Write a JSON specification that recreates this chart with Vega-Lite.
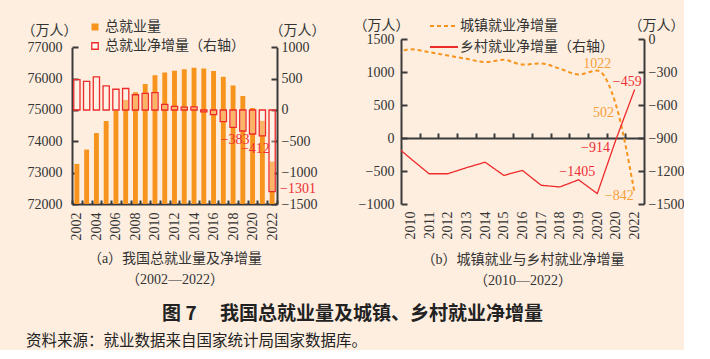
{
  "$schema": "https://vega.github.io/schema/vega-lite/v6.json",
  "background": "#FDEEE0",
  "padding": {"left": 21, "top": 18, "right": 0, "bottom": 0},
  "config": {
    "view": {"stroke": null},
    "font": "Liberation Serif, Noto Sans CJK SC",
    "axis": {
      "domainColor": "#3A3A3A", "domainWidth": 2, "tickColor": "#3A3A3A", "tickWidth": 2,
      "labelColor": "#333333", "labelFont": "Liberation Serif", "labelFontSize": 14,
      "labelOverlap": false,
      "grid": false, "titleFont": "Liberation Serif, Noto Sans CJK SC", "titleFontWeight": "normal",
      "titleColor": "#333333", "titleFontSize": 14
    },
    "legend": {"labelFont": "Noto Sans CJK SC", "labelFontSize": 14, "labelColor": "#333333"}
  },
  "datasets": {
    "total": [
      {"year": 2002, "total": 73280, "net": 483},
      {"year": 2003, "total": 73736, "net": 456},
      {"year": 2004, "total": 74264, "net": 528},
      {"year": 2005, "total": 74647, "net": 383},
      {"year": 2006, "total": 74978, "net": 331},
      {"year": 2007, "total": 75321, "net": 343},
      {"year": 2008, "total": 75564, "net": 243},
      {"year": 2009, "total": 75828, "net": 264},
      {"year": 2010, "total": 76105, "net": 277},
      {"year": 2011, "total": 76196, "net": 91},
      {"year": 2012, "total": 76254, "net": 58},
      {"year": 2013, "total": 76301, "net": 47},
      {"year": 2014, "total": 76349, "net": 48},
      {"year": 2015, "total": 76320, "net": -29},
      {"year": 2016, "total": 76245, "net": -75},
      {"year": 2017, "total": 76058, "net": -187},
      {"year": 2018, "total": 75782, "net": -276},
      {"year": 2019, "total": 75447, "net": -335},
      {"year": 2020, "total": 75064, "net": -383},
      {"year": 2021, "total": 74652, "net": -412},
      {"year": 2022, "total": 73351, "net": -1301}
    ],
    "urban": [
      {"year": 2009, "value": 1220},
      {"year": 2010, "value": 1345},
      {"year": 2011, "value": 1300},
      {"year": 2012, "value": 1250},
      {"year": 2013, "value": 1200},
      {"year": 2014, "value": 1150},
      {"year": 2015, "value": 1185},
      {"year": 2016, "value": 1112},
      {"year": 2017, "value": 1130},
      {"year": 2018, "value": 1050},
      {"year": 2019, "value": 962},
      {"year": 2020, "value": 1022},
      {"year": 2021, "value": 502},
      {"year": 2022, "value": -842}
    ],
    "rural": [
      {"year": 2009, "value": -940},
      {"year": 2010, "value": -1085},
      {"year": 2011, "value": -1225},
      {"year": 2012, "value": -1225},
      {"year": 2013, "value": -1170},
      {"year": 2014, "value": -1120},
      {"year": 2015, "value": -1240},
      {"year": 2016, "value": -1195},
      {"year": 2017, "value": -1330},
      {"year": 2018, "value": -1345},
      {"year": 2019, "value": -1280},
      {"year": 2020, "value": -1405},
      {"year": 2021, "value": -914},
      {"year": 2022, "value": -459}
    ]
  },
  "title": {
    "text": "资料来源：就业数据来自国家统计局国家数据库。",
    "orient": "bottom", "anchor": "start", "font": "Noto Sans CJK SC",
    "fontSize": 15.5, "fontWeight": "normal", "color": "#222222", "offset": 10, "dx": 5
  },
  "vconcat": [
    {
      "title": {
        "text": "图 7　 我国总就业量及城镇、乡村就业净增量",
        "orient": "bottom", "anchor": "middle", "font": "Noto Sans CJK SC",
        "fontSize": 19, "fontWeight": "bold", "color": "#222222", "offset": 18
      },
      "bounds": "flush",
      "spacing": 124,
      "resolve": {
        "scale": {"fill": "independent", "stroke": "independent", "strokeDash": "independent"},
        "legend": {"fill": "independent", "stroke": "independent", "strokeDash": "independent"}
      },
      "hconcat": [
        {
          "width": 205,
          "height": 165,
          "data": {"name": "total"},
          "encoding": {
            "x": {
              "field": "year", "type": "ordinal",
              "scale": {"type": "band", "paddingInner": 0, "paddingOuter": 0},
              "axis": {
                "labelExpr": "datum.value % 2 == 0 ? datum.label : ''",
                "labelAngle": -90, "labelFontSize": 14, "labelPadding": 12, "labelOverlap": false,
                "tickBand": "extent", "tickSize": -4,
                "title": ["（a）我国总就业量及净增量", "（2002—2022）"],
                "titlePadding": 11, "titleLineHeight": 21
              }
            }
          },
          "layer": [
            {
              "mark": {"type": "bar", "width": {"band": 0.5}},
              "encoding": {
                "y": {
                  "field": "total", "type": "quantitative",
                  "scale": {"domain": [72000, 77000], "range": [165, 8.3], "zero": false, "nice": false},
                  "axis": {
                    "orient": "left", "values": [72000, 73000, 74000, 75000, 76000, 77000], "tickCount": 30,
                    "format": "d", "tickSize": -6, "labelPadding": 16, "labelOverlap": false,
                    "title": "（万人）", "titleAngle": 0, "titleX": -23, "titleY": -9,
                    "titleAlign": "center", "titleBaseline": "middle"
                  }
                },
                "y2": {"datum": 72000},
                "fill": {
                  "datum": "总就业量", "type": "nominal",
                  "scale": {"range": ["#F7941D"]},
                  "legend": {
                    "orient": "none", "legendX": 16, "legendY": -19, "title": null,
                    "symbolType": "square", "symbolSize": 49, "symbolStrokeWidth": 0,
                    "labelOffset": 3
                  }
                }
              }
            },
            {
              "layer": [
                {
                  "mark": {"type": "bar", "width": {"band": 0.64}, "fill": "#FFF6F2", "fillOpacity": 0.35, "strokeWidth": 1.3},
                  "encoding": {
                    "y": {
                      "field": "net", "type": "quantitative",
                      "scale": {"domain": [-1500, 1000], "range": [165, 8.3], "zero": false, "nice": false},
                      "axis": {
                        "orient": "right", "values": [-1500, -1000, -500, 0, 500, 1000], "tickCount": 30,
                        "format": "d", "tickSize": -6, "labelPadding": 10, "labelOverlap": false,
                        "title": "（万人）", "titleAngle": 0, "titleX": 20, "titleY": -9,
                        "titleAlign": "center", "titleBaseline": "middle"
                      }
                    },
                    "y2": {"datum": 0},
                    "stroke": {
                      "datum": "总就业净增量（右轴）", "type": "nominal",
                      "scale": {"range": ["#EE2B2B"]},
                      "legend": {
                        "orient": "none", "legendX": 16, "legendY": 0, "title": null,
                        "symbolType": "square", "symbolSize": 42, "symbolStrokeWidth": 1.3,
                        "symbolFillColor": "#FFF4F0", "labelOffset": 3
                      }
                    }
                  }
                },
                {
                  "transform": [{"filter": "datum.year == 2020"}],
                  "mark": {"type": "text", "align": "right", "baseline": "middle", "dx": -3, "dy": 6, "fontSize": 14, "color": "#EE2E36", "font": "Liberation Serif"},
                  "encoding": {"y": {"field": "net", "type": "quantitative"}, "text": {"field": "net", "format": "d"}}
                },
                {
                  "transform": [{"filter": "datum.year == 2021"}],
                  "mark": {"type": "text", "align": "center", "baseline": "middle", "dx": -7, "dy": 13, "fontSize": 14, "color": "#EE2E36", "font": "Liberation Serif"},
                  "encoding": {"y": {"field": "net", "type": "quantitative"}, "text": {"field": "net", "format": "d"}}
                },
                {
                  "transform": [{"filter": "datum.year == 2022"}],
                  "mark": {"type": "text", "align": "left", "baseline": "middle", "dx": 8, "dy": -3, "fontSize": 14, "color": "#EE2E36", "font": "Liberation Serif"},
                  "encoding": {"y": {"field": "net", "type": "quantitative"}, "text": {"field": "net", "format": "d"}}
                }
              ]
            }
          ],
          "resolve": {"scale": {"y": "independent"}}
        },
        {
          "width": 243,
          "height": 165,
          "layer": [
            {
              "data": {"name": "urban"},
              "layer": [
                {
                  "mark": {"type": "line", "clip": true, "interpolate": "monotone", "strokeWidth": 2},
                  "encoding": {
                    "x": {
                      "field": "year", "type": "quantitative",
                      "scale": {"domain": [2009.5, 2022.5], "nice": false, "zero": false},
                      "axis": {
                        "orient": "bottom",
                        "values": [2010, 2011, 2012, 2013, 2014, 2015, 2016, 2017, 2018, 2019, 2020, 2021, 2022], "tickCount": 30,
                        "format": "d", "labelExpr": "datum.value == 2021 ? '2020' : datum.label",
                        "labelAngle": -90, "labelFontSize": 14, "labelPadding": 7, "labelOverlap": false,
                        "domain": false, "ticks": false,
                        "title": ["（b）城镇就业与乡村就业净增量", "（2010—2022）"],
                        "titlePadding": 13, "titleLineHeight": 21
                      }
                    },
                    "y": {
                      "field": "value", "type": "quantitative",
                      "scale": {"domain": [-1000, 1500], "nice": false, "zero": false},
                      "axis": {
                        "orient": "left", "values": [-1000, -500, 0, 500, 1000, 1500], "tickCount": 30,
                        "format": "d", "tickSize": -6, "labelPadding": 13, "labelOverlap": false,
                        "title": "（万人）", "titleAngle": 0, "titleX": -20, "titleY": -14,
                        "titleAlign": "center", "titleBaseline": "middle"
                      }
                    },
                    "stroke": {
                      "datum": "城镇就业净增量", "type": "nominal",
                      "scale": {"domain": ["城镇就业净增量", "乡村就业净增量（右轴）"], "range": ["#F7941D", "#EE2B2B"]},
                      "legend": {
                        "orient": "none", "legendX": 35, "legendY": -21, "title": null,
                        "symbolType": "M-2,0H2", "symbolSize": 196, "symbolStrokeWidth": 1.8,
                        "labelOffset": 8, "rowPadding": 6
                      }
                    },
                    "strokeDash": {
                      "datum": "城镇就业净增量", "type": "nominal",
                      "scale": {"domain": ["城镇就业净增量", "乡村就业净增量（右轴）"], "range": [[4, 3], [1, 0]]},
                      "legend": {
                        "orient": "none", "legendX": 35, "legendY": -21, "title": null,
                        "symbolType": "M-2,0H2", "symbolSize": 196, "symbolStrokeWidth": 1.8,
                        "labelOffset": 8, "rowPadding": 6
                      }
                    }
                  }
                },
                {
                  "transform": [{"filter": "datum.year == 2020"}],
                  "mark": {"type": "text", "align": "center", "baseline": "middle", "dx": 0, "dy": -7, "fontSize": 14, "color": "#F7A03A", "font": "Liberation Serif"},
                  "encoding": {"x": {"field": "year", "type": "quantitative"}, "y": {"field": "value", "type": "quantitative"}, "text": {"field": "value", "format": "d"}}
                },
                {
                  "transform": [{"filter": "datum.year == 2021"}],
                  "mark": {"type": "text", "align": "right", "baseline": "middle", "dx": -2, "dy": 8, "fontSize": 14, "color": "#F7A03A", "font": "Liberation Serif"},
                  "encoding": {"x": {"field": "year", "type": "quantitative"}, "y": {"field": "value", "type": "quantitative"}, "text": {"field": "value", "format": "d"}}
                },
                {
                  "transform": [{"filter": "datum.year == 2022"}],
                  "mark": {"type": "text", "align": "right", "baseline": "middle", "dx": -1, "dy": 2, "fontSize": 14, "color": "#F7A03A", "font": "Liberation Serif"},
                  "encoding": {"x": {"field": "year", "type": "quantitative"}, "y": {"field": "value", "type": "quantitative"}, "text": {"field": "value", "format": "d"}}
                }
              ]
            },
            {
              "data": {"name": "rural"},
              "layer": [
                {
                  "mark": {"type": "line", "clip": true, "strokeWidth": 1.3},
                  "encoding": {
                    "x": {
                      "field": "year", "type": "quantitative",
                      "scale": {"domain": [2009.5, 2022.5], "nice": false, "zero": false},
                      "axis": {
                        "orient": "top", "offset": -99,
                        "values": [2010.5, 2011.5, 2012.5, 2013.5, 2014.5, 2015.5, 2016.5, 2017.5, 2018.5, 2019.5, 2020.5, 2021.5], "tickCount": 30,
                        "labels": false, "ticks": true, "tickSize": 5, "domain": true, "title": null
                      }
                    },
                    "y": {
                      "field": "value", "type": "quantitative",
                      "scale": {"domain": [-1500, 0], "nice": false, "zero": false},
                      "axis": {
                        "orient": "right", "values": [-1500, -1200, -900, -600, -300, 0], "tickCount": 30,
                        "format": "d", "tickSize": -6, "labelPadding": 10, "labelOverlap": false,
                        "title": "（万人）", "titleAngle": 0, "titleX": 12, "titleY": -14,
                        "titleAlign": "center", "titleBaseline": "middle"
                      }
                    },
                    "stroke": {"datum": "乡村就业净增量（右轴）", "type": "nominal"},
                    "strokeDash": {"datum": "乡村就业净增量（右轴）", "type": "nominal"}
                  }
                },
                {
                  "transform": [{"filter": "datum.year == 2022"}],
                  "mark": {"type": "text", "align": "right", "baseline": "middle", "dx": 7, "dy": -7, "fontSize": 14, "color": "#EE2E36", "font": "Liberation Serif"},
                  "encoding": {"x": {"field": "year", "type": "quantitative"}, "y": {"field": "value", "type": "quantitative"}, "text": {"field": "value", "format": "d"}}
                },
                {
                  "transform": [{"filter": "datum.year == 2021"}],
                  "mark": {"type": "text", "align": "right", "baseline": "middle", "dx": -6, "dy": 8, "fontSize": 14, "color": "#EE2E36", "font": "Liberation Serif"},
                  "encoding": {"x": {"field": "year", "type": "quantitative"}, "y": {"field": "value", "type": "quantitative"}, "text": {"field": "value", "format": "d"}}
                },
                {
                  "transform": [{"filter": "datum.year == 2020"}],
                  "mark": {"type": "text", "align": "right", "baseline": "middle", "dx": -2, "dy": -22, "fontSize": 14, "color": "#EE2E36", "font": "Liberation Serif"},
                  "encoding": {"x": {"field": "year", "type": "quantitative"}, "y": {"field": "value", "type": "quantitative"}, "text": {"field": "value", "format": "d"}}
                }
              ]
            }
          ],
          "resolve": {"scale": {"y": "independent", "x": "independent"}, "axis": {"x": "independent"}}
        }
      ]
    }
  ]
}
